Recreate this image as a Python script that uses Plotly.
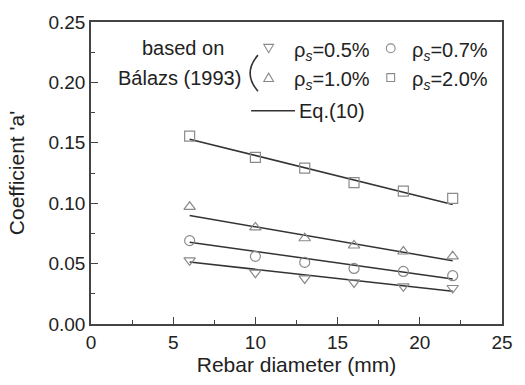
import plotly.graph_objects as go

diam = [6, 10, 13, 16, 19, 22]
rho_05 = [0.0527, 0.0425, 0.0377, 0.0344, 0.0312, 0.0298]
rho_07 = [0.069, 0.056, 0.051, 0.046, 0.0435, 0.040]
rho_10 = [0.097, 0.080, 0.071, 0.065, 0.060, 0.056]
rho_20 = [0.1556, 0.138, 0.129, 0.117, 0.110, 0.104]

eq_x = [6, 22]
eq_05 = [0.0513, 0.0272]
eq_07 = [0.0677, 0.0373]
eq_10 = [0.0898, 0.0524]
eq_20 = [0.153, 0.099]

FONT = "Liberation Sans, Arial, sans-serif"
GRAY = "#8a8a8a"
LINE = "#333333"

fig = go.Figure()
for ys in [eq_05, eq_07, eq_10, eq_20]:
    fig.add_trace(go.Scatter(x=eq_x, y=ys, mode="lines",
                             line=dict(color=LINE, width=1.5), showlegend=False))
for ys, sym in [(rho_05, "triangle-down-open"), (rho_07, "circle-open"),
                (rho_10, "triangle-up-open"), (rho_20, "square-open")]:
    fig.add_trace(go.Scatter(x=diam, y=ys, mode="markers",
                             marker=dict(symbol=sym, size=10, color=GRAY,
                                         line=dict(width=1.2, color=GRAY)),
                             showlegend=False))

axis_common = dict(showline=True, linecolor="#444444", linewidth=1.5, mirror=True,
                   ticks="inside", ticklen=7, tickwidth=1.2, tickcolor="#444444",
                   showgrid=False, zeroline=False,
                   tickfont=dict(family=FONT, size=19, color="#222222"))

fig.update_layout(
    width=525, height=385,
    margin=dict(l=91, r=13, t=16, b=59),
    plot_bgcolor="white", paper_bgcolor="white",
    xaxis=dict(range=[0, 25], dtick=5, tick0=0,
               minor=dict(ticks="inside", ticklen=4, dtick=2.5, tickcolor="#444444"),
               title=dict(text="Rebar diameter (mm)", font=dict(family=FONT, size=21, color="#222222"),
                          standoff=6),
               **axis_common),
    yaxis=dict(range=[0, 0.25], dtick=0.05, tick0=0, tickformat=".2f",
               minor=dict(ticks="inside", ticklen=4, dtick=0.025, tickcolor="#444444"),
               title=dict(text="Coefficient 'a'", font=dict(family=FONT, size=21, color="#222222"),
                          standoff=18),
               **axis_common),
)

W, H = 525, 385
L, R, T, B = 91, 13, 16, 59
pw, ph = W - L - R, H - T - B


def px(x):
    return (x - L) / pw


def py(y):
    return 1 - (y - T) / ph


def ann(text, x, y, size=20, color="#222222", xanchor="center"):
    fig.add_annotation(text=text, x=px(x), y=py(y), xref="paper", yref="paper",
                       showarrow=False, xanchor=xanchor, yanchor="middle",
                       font=dict(family=FONT, size=size, color=color))


def sym_shape(kind, cx, cy, r=4.5):
    st = dict(xref="paper", yref="paper", line=dict(color=GRAY, width=1.1),
              fillcolor="rgba(0,0,0,0)")
    if kind == "circle":
        fig.add_shape(type="circle", x0=px(cx - r), x1=px(cx + r),
                      y0=py(cy + r), y1=py(cy - r), **st)
    elif kind == "square":
        s = r - 0.5
        fig.add_shape(type="rect", x0=px(cx - s), x1=px(cx + s),
                      y0=py(cy + s), y1=py(cy - s), **st)
    elif kind == "tri_up":
        p = (f"M {px(cx - r - 0.5)},{py(cy + r - 0.5)} L {px(cx + r + 0.5)},{py(cy + r - 0.5)} "
             f"L {px(cx)},{py(cy - r)} Z")
        fig.add_shape(type="path", path=p, **st)
    elif kind == "tri_down":
        p = (f"M {px(cx - r - 0.5)},{py(cy - r + 0.5)} L {px(cx + r + 0.5)},{py(cy - r + 0.5)} "
             f"L {px(cx)},{py(cy + r)} Z")
        fig.add_shape(type="path", path=p, **st)


ann("based on", 185, 43)
ann("Bálazs (1993)", 182, 73)
paren = (f"M {px(262)},{py(50)} Q {px(246)},{py(68.5)} {px(262)},{py(87)}")
fig.add_shape(type="path", xref="paper", yref="paper", path=paren,
              line=dict(color="#333333", width=1.6))
sym_shape("tri_down", 273, 43)
sym_shape("tri_up", 273, 73)
sym_shape("circle", 398, 43)
sym_shape("square", 398, 73)
ann("ρ<sub><i>s</i></sub>=0.5%", 297, 46, xanchor="left")
ann("ρ<sub><i>s</i></sub>=1.0%", 297, 76, xanchor="left")
ann("ρ<sub><i>s</i></sub>=0.7%", 418, 46, xanchor="left")
ann("ρ<sub><i>s</i></sub>=2.0%", 418, 76, xanchor="left")
ann("Eq.(10)", 302, 107, xanchor="left")
fig.add_shape(type="line", xref="paper", yref="paper",
              x0=px(255), x1=px(300), y0=py(107), y1=py(107),
              line=dict(color=LINE, width=1.5))

fig.write_html("out.html")
